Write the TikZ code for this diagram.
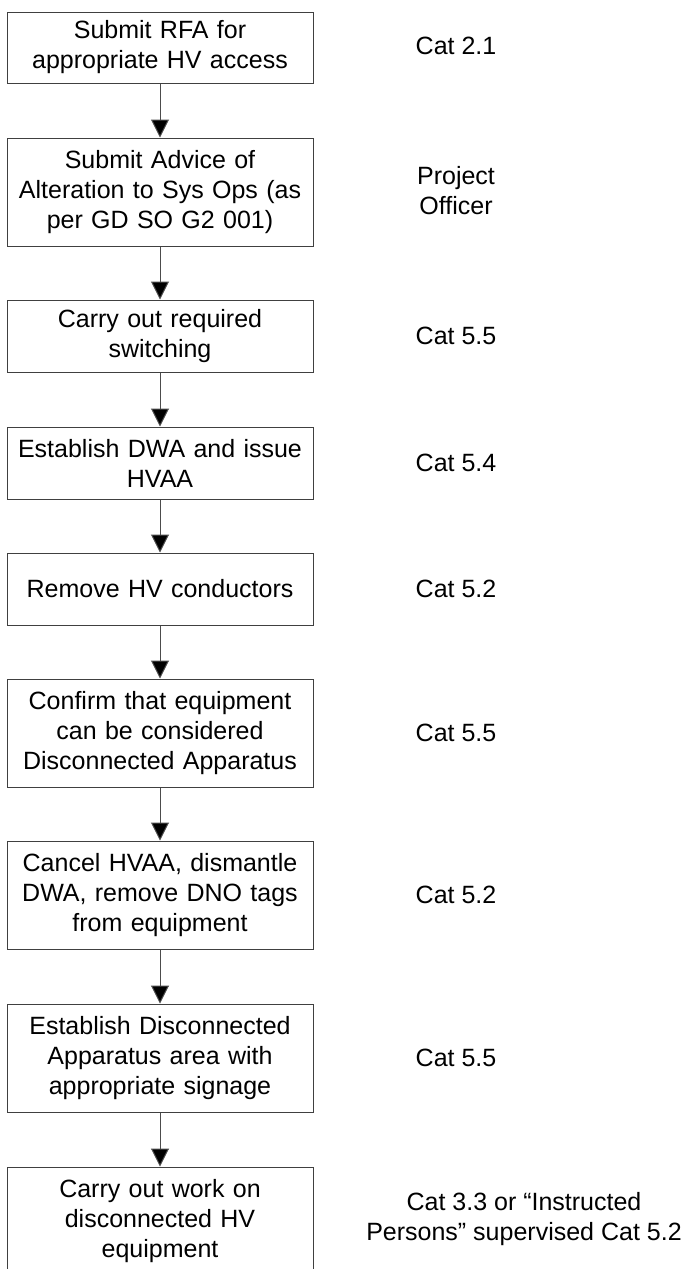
\documentclass[tikz,border=0pt]{standalone}
\usepackage{fontspec}
\setmainfont{Liberation Sans}
\usepackage{tikz}
\usetikzlibrary{arrows.meta, shapes}

\tikzset{
  stepbox/.style={rectangle, draw=black!75, line width=1pt, text width=306pt, inner xsep=0pt, inner ysep=0pt, align=center, minimum height=72pt},
  tallbox/.style={stepbox, minimum height=108pt},
  catlabel/.style={align=center, inner sep=0pt},
  flow/.style={draw=black!70, line width=1pt, -{Triangle[length=18pt,width=18pt,fill=black]}}
}

\begin{document}
\begin{tikzpicture}[x=1pt, y=-1pt, font=\fontsize{25}{30}\selectfont]
\useasboundingbox (0,0) rectangle (688,1269);

\node[stepbox, minimum height=71pt] (A) at (160,47.5) {Submit RFA for\\appropriate HV access};
\node[tallbox] (B) at (160,192)  {Submit Advice of\\Alteration to Sys Ops (as\\per GD SO G2 001)};
\node[stepbox] (C) at (160,336)  {Carry out required\\switching};
\node[stepbox] (D) at (160,463)  {Establish DWA and issue\\HVAA};
\node[stepbox] (E) at (160,589)  {Remove HV conductors};
\node[tallbox] (F) at (160,733)  {Confirm that equipment\\can be considered\\Disconnected Apparatus};
\node[tallbox] (G) at (160,895)  {Cancel HVAA, dismantle\\DWA, remove DNO tags\\from equipment};
\node[tallbox] (H) at (160,1058) {Establish Disconnected\\Apparatus area with\\appropriate signage};
\node[tallbox] (I) at (160,1221) {Carry out work on\\disconnected HV\\equipment};

\draw[flow] (A) -- (B);
\draw[flow] (B) -- (C);
\draw[flow] (C) -- (D);
\draw[flow] (D) -- (E);
\draw[flow] (E) -- (F);
\draw[flow] (F) -- (G);
\draw[flow] (G) -- (H);
\draw[flow] (H) -- (I);

\node[catlabel] (LA) at (456,46)   {Cat 2.1};
\node[catlabel] (LB) at (456,191)  {Project\\Officer};
\node[catlabel] (LC) at (456,336)  {Cat 5.5};
\node[catlabel] (LD) at (456,463)  {Cat 5.4};
\node[catlabel] (LE) at (456,589)  {Cat 5.2};
\node[catlabel] (LF) at (456,733)  {Cat 5.5};
\node[catlabel] (LG) at (456,895)  {Cat 5.2};
\node[catlabel] (LH) at (456,1058) {Cat 5.5};
\node[catlabel] (LI) at (524,1219) {Cat 3.3 or “Instructed\\Persons” supervised Cat 5.2};
\end{tikzpicture}
\end{document}
